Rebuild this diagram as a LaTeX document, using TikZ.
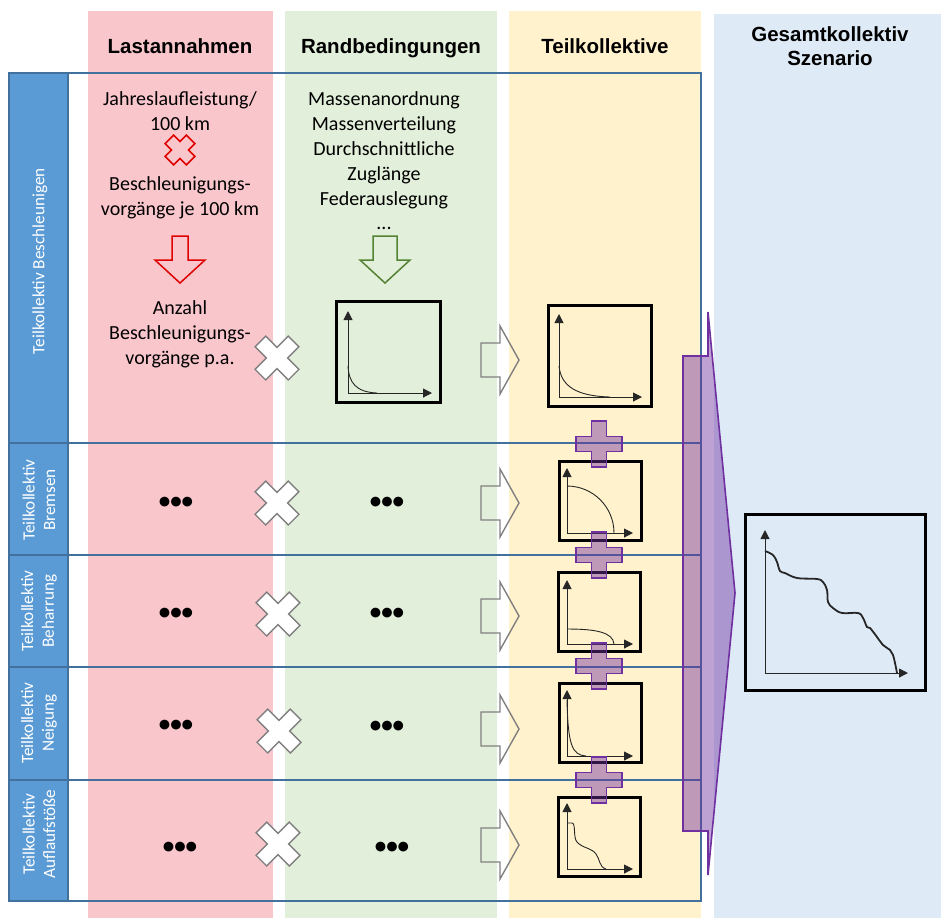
\documentclass[tikz,border=0pt]{standalone}
\usepackage{fontspec}
\setmainfont{Carlito}
\newfontfamily\kopffont{Liberation Sans}
\usepackage{tikz}
\usetikzlibrary{arrows.meta, positioning, calc}

\definecolor{spalterot}{RGB}{249,198,204}
\definecolor{spaltegruen}{RGB}{226,239,218}
\definecolor{spaltegelb}{RGB}{255,242,204}
\definecolor{spalteblau}{RGB}{222,235,247}
\definecolor{zeilenblau}{RGB}{91,155,213}
\definecolor{randblau}{RGB}{65,113,156}
\definecolor{kreuzrot}{RGB}{224,0,0}
\definecolor{pfeilgruen}{RGB}{84,130,53}
\definecolor{lila}{RGB}{112,48,160}

% Plus-Umriss: halbe Armlaenge, halbe Armbreite
\newcommand{\plusweg}[2]{(-#1,-#2) -- (-#2,-#2) -- (-#2,-#1) -- (#2,-#1) -- (#2,-#2) -- (#1,-#2) -- (#1,#2) -- (#2,#2) -- (#2,#1) -- (-#2,#1) -- (-#2,#2) -- (-#1,#2) -- cycle}

\begin{document}
\begin{tikzpicture}[x=0.5pt, y=-0.5pt,
    titel/.style={font=\kopffont\bfseries\fontsize{10.25}{12}\selectfont, align=center, inner sep=0},
    inhalt/.style={font=\fontsize{10}{12.4}\selectfont, align=center, inner sep=0},
    etext/.style={text=white, rotate=90, align=center, font=\fontsize{8.6}{10.3}\selectfont, inner sep=0},
    punkte/.style={font=\bfseries\fontsize{11.5}{12}\selectfont, inner sep=0},
    zeile/.style={draw=randblau, line width=0.7pt},
    etikett/.style={fill=zeilenblau, draw=randblau, line width=0.7pt},
    diagramm/.style={draw=black, line width=1.5pt, inner sep=0},
    achse/.style={line width=0.5pt, black!85, -{Triangle[length=4.5pt, width=4.5pt]}},
    kurve/.style={line width=0.45pt, black!85},
    kreuz/.style={draw=gray, fill=white, line width=0.7pt},
    blockpfeil/.style={draw=gray, line width=0.7pt},
    summe/.style={draw=lila, fill=lila, fill opacity=0.45, line width=0.8pt},
]
    \useasboundingbox (0,0) rectangle (941,918);

    % Spalten
    \fill[spalterot] (88,11) rectangle (273,918);
    \fill[spaltegruen] (285,11) rectangle (497,918);
    \fill[spaltegelb] (509,11) rectangle (701,918);
    \fill[spalteblau] (714,14) rectangle (941,918);

    % Spaltentitel
    \node[titel] (tlast) at (180,46) {Lastannahmen};
    \node[titel] (trand) at (391,48) {Randbedingungen};
    \node[titel] (tteil) at (605,46) {Teilkollektive};
    \node[titel] (tges) at (830,46) {Gesamtkollektiv\\Szenario};

    % Zeilen
    \foreach \o/\u in {73/443, 443/555, 555/667, 667/780, 780/901} {
        \draw[zeile] (9,\o) rectangle (701,\u);
        \draw[etikett] (9,\o) rectangle (68,\u);
    }
    \node[etext] (e1) at (40,261) {Teilkollektiv Beschleunigen};
    \node[etext] (e2) at (39,500) {Teilkollektiv\\Bremsen};
    \node[etext] (e3) at (39,611) {Teilkollektiv\\Beharrung};
    \node[etext] (e4) at (39,723) {Teilkollektiv\\Neigung};
    \node[etext] (e5) at (39,834) {Teilkollektiv\\Auflaufstöße};

    % Zeile Beschleunigen
    \node[inhalt] (jahr) at (180,111) {Jahreslaufleistung/\\100 km};
    \draw[kreuzrot, line width=0.75pt, shift={(180,150)}, rotate=45] \plusweg{15}{6};
    \node[inhalt] (vorg) at (180,198) {Beschleunigungs-\\vorgänge je 100 km};
    \draw[kreuzrot, line width=0.75pt, shift={(180,0)}]
        (-8,236) -- (8,236) -- (8,260) -- (25,260) -- (0,283) -- (-25,260) -- (-8,260) -- cycle;
    \node[inhalt] (anzahl) at (180,334) {Anzahl\\Beschleunigungs-\\vorgänge p.a.};

    \node[inhalt] (rand) at (384,161) {Massenanordnung\\Massenverteilung\\Durchschnittliche\\Zuglänge\\Federauslegung\\...};
    \draw[pfeilgruen, line width=0.75pt, shift={(385,0)}]
        (-12,236) -- (12,236) -- (12,260) -- (25,260) -- (0,283) -- (-25,260) -- (-12,260) -- cycle;

    % Diagramm Randbedingungen
    \node[diagramm, minimum width=52pt, minimum height=50.5pt] (g1) at (388.5,352) {};
    \draw[achse] (348,393) -- (348,311);
    \draw[achse] (348,393) -- (432,393);
    \draw[kurve] (348,366) .. controls (349,383) and (356,392) .. (377,393);

    % Punkte
    \node[punkte] (p2) at (176,503) {•••};
    \node[punkte] (p3) at (176,614) {•••};
    \node[punkte] (p4) at (176,726) {•••};
    \node[punkte] (p5) at (180,848) {•••};
    \node[punkte] (q2) at (387,503) {•••};
    \node[punkte] (q3) at (387,614) {•••};
    \node[punkte] (q4) at (387,727) {•••};
    \node[punkte] (q5) at (392,848) {•••};

    % Kreuze und Pfeile
    \foreach \x/\y in {277/358, 277/503, 278/614, 279/731, 278/844} {
        \draw[kreuz, shift={(\x,\y)}, rotate=45] \plusweg{23.5}{7.5};
    }
    \foreach \y in {360, 503, 616, 729, 845} {
        \draw[blockpfeil, shift={(0,\y)}]
            (481,-17) -- (500,-17) -- (500,-34) -- (519,0) -- (500,34) -- (500,17) -- (481,17) -- cycle;
    }

    % Teilkollektive
    \node[diagramm, minimum width=51.5pt, minimum height=50.5pt] (k1) at (600,356) {};
    \node[diagramm, minimum width=41pt, minimum height=39.5pt] (k2) at (600.5,501) {};
    \node[diagramm, minimum width=41pt, minimum height=39.5pt] (k3) at (599.5,612) {};
    \node[diagramm, minimum width=41pt, minimum height=39.5pt] (k4) at (600.5,723) {};
    \node[diagramm, minimum width=41pt, minimum height=39.5pt] (k5) at (599.5,837) {};

    \draw[achse] (559,397) -- (559,314);
    \draw[achse] (559,397) -- (642,397);
    \draw[kurve] (559,366) .. controls (561,386) and (576,396) .. (610,397);

    \draw[achse] (567,533) -- (567,468);
    \draw[achse] (567,533) -- (633,533);
    \draw[kurve] (567,486) .. controls (593,486) and (614,507) .. (614,533);

    \draw[achse] (567,644) -- (567,580);
    \draw[achse] (567,644) -- (633,644);
    \draw[kurve] (567,629) .. controls (595,629) and (613,632) .. (614,644);

    \draw[achse] (567,756) -- (567,690);
    \draw[achse] (567,756) -- (633,756);
    \draw[kurve] (567,700) .. controls (568,745) and (572,755) .. (586,756);

    \draw[achse] (567,869) -- (567,803);
    \draw[achse] (567,869) -- (633,869);
    \draw[kurve] (567,823) -- (572,823) .. controls (576,823) and (573,838) .. (577,842)
        .. controls (582,848) and (592,848) .. (596,854) .. controls (600,859) and (599,867) .. (606,869);

    % Summenzeichen
    \foreach \y in {444, 555, 666, 780} {
        \draw[summe, shift={(599,\y)}] \plusweg{23}{7.5};
    }

    % grosser Pfeil zum Gesamtkollektiv
    \draw[summe] (683,356) -- (708,356) -- (708,312) -- (735,593) -- (708,875) -- (708,831) -- (683,831) -- cycle;

    % Gesamtkollektiv
    \node[diagramm, minimum width=90pt, minimum height=88pt] (ges) at (835.5,602.5) {};
    \draw[achse] (765,673) -- (765,530);
    \draw[achse] (765,673) -- (908,673);
    \draw[line width=0.9pt, black!85] plot[smooth, tension=0.6] coordinates {(765,551) (773,555) (777,562) (780,571)
        (785,573) (797,578) (817,579) (823,582) (827,590) (828,602) (833,608) (842,613) (858,613) (863,618)
        (867,627) (870,628) (877,637) (883,645) (890,650) (893,655) (895,663) (897,673)};
\end{tikzpicture}
\end{document}
